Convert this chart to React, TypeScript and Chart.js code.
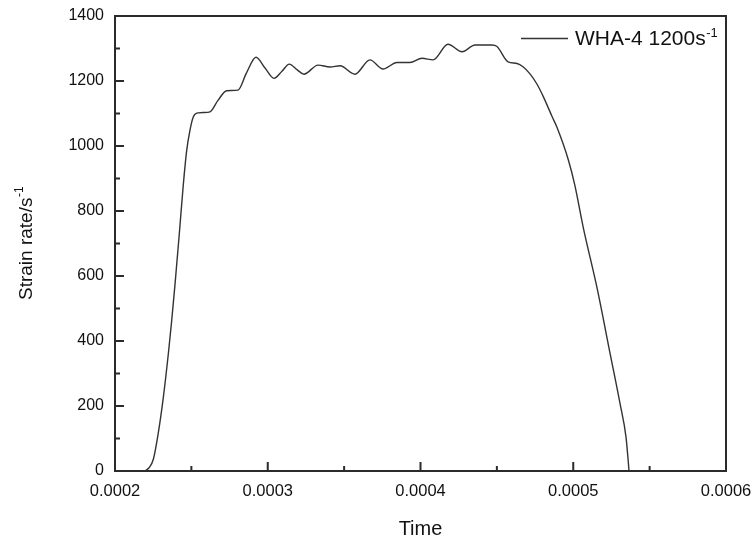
import React, { useEffect, useRef } from "react";
import { Chart, registerables } from "chart.js";

Chart.register(...registerables);

const timeValues: number[] = [
  0.0002196, 0.0002223, 0.0002251, 0.0002283, 0.0002316, 0.0002349, 0.0002371, 0.0002393,
  0.0002421, 0.0002447, 0.0002469, 0.0002491, 0.0002513, 0.0002545, 0.0002583, 0.0002622,
  0.0002675, 0.0002731, 0.0002805, 0.000286, 0.0002923, 0.0002982, 0.0003041, 0.0003093,
  0.0003141, 0.0003191, 0.0003237, 0.0003329, 0.0003408, 0.0003473, 0.0003571, 0.0003669,
  0.0003755, 0.0003846, 0.0003931, 0.000401, 0.0004082, 0.000418, 0.0004272, 0.0004357,
  0.0004468, 0.0004501, 0.0004573, 0.0004632, 0.0004671, 0.0004717, 0.0004763, 0.0004804,
  0.0004862, 0.0004892, 0.0004968, 0.0005011, 0.0005066, 0.0005154, 0.0005241, 0.0005306,
  0.0005345, 0.000536, 0.0005365,
];

const strainRate: number[] = [
  0, 10, 36, 116, 225, 360, 462, 575,
  730, 880, 985, 1049, 1090, 1102, 1103, 1105,
  1141, 1170, 1172, 1224, 1273, 1240, 1208, 1230,
  1252, 1235, 1221, 1249, 1243, 1247, 1221, 1265,
  1237, 1257, 1257, 1270, 1265, 1313, 1290, 1311,
  1311, 1306, 1259, 1254, 1244, 1222, 1190, 1152,
  1090, 1059, 957, 878, 748, 567, 362, 208,
  106, 30, 0,
];

const xTicks: number[] = [0.0002, 0.0003, 0.0004, 0.0005, 0.0006];
const yTicks: number[] = [0, 200, 400, 600, 800, 1000, 1200, 1400];
const seriesName = "WHA-4 1200s";
const seriesSup = "-1";
const xTitle = "Time";
const yTitle = "Strain rate/s";
const yTitleSup = "-1";

const FONT = "'Liberation Sans', Arial, sans-serif";
const AXIS_COLOR = "#2b2b2b";

const framePlugin = {
  id: "originFrame",
  afterDraw(chart: any) {
    const { ctx, chartArea } = chart;
    const xs = chart.scales.x;
    const ys = chart.scales.y;
    const { left, right, top, bottom } = chartArea;
    ctx.save();
    ctx.strokeStyle = AXIS_COLOR;
    ctx.lineWidth = 2;
    ctx.strokeRect(left, top, right - left, bottom - top);

    // inner ticks
    ctx.lineWidth = 2;
    ctx.beginPath();
    for (let i = 0; i < xTicks.length; i++) {
      const px = xs.getPixelForValue(xTicks[i]);
      ctx.moveTo(px, bottom);
      ctx.lineTo(px, bottom - 9);
      if (i < xTicks.length - 1) {
        const mx = xs.getPixelForValue((xTicks[i] + xTicks[i + 1]) / 2);
        ctx.moveTo(mx, bottom);
        ctx.lineTo(mx, bottom - 5);
      }
    }
    for (let i = 0; i < yTicks.length; i++) {
      const py = ys.getPixelForValue(yTicks[i]);
      ctx.moveTo(left, py);
      ctx.lineTo(left + 9, py);
      if (i < yTicks.length - 1) {
        const my = ys.getPixelForValue((yTicks[i] + yTicks[i + 1]) / 2);
        ctx.moveTo(left, my);
        ctx.lineTo(left + 5, my);
      }
    }
    ctx.stroke();

    // axis titles
    ctx.fillStyle = "#111";
    ctx.textBaseline = "alphabetic";
    ctx.font = `20px ${FONT}`;
    ctx.textAlign = "center";
    ctx.fillText(xTitle, (left + right) / 2, 535);

    ctx.save();
    ctx.translate(31.5, 300);
    ctx.rotate(-Math.PI / 2);
    ctx.textAlign = "left";
    ctx.font = `19px ${FONT}`;
    ctx.fillText(yTitle, 0, 0);
    const w = ctx.measureText(yTitle).width;
    ctx.font = `12px ${FONT}`;
    ctx.fillText(yTitleSup, w + 0.5, -9);
    ctx.restore();

    // legend
    ctx.strokeStyle = "#333";
    ctx.lineWidth = 1.3;
    ctx.beginPath();
    ctx.moveTo(521, 38.5);
    ctx.lineTo(568, 38.5);
    ctx.stroke();
    ctx.textAlign = "left";
    ctx.font = `21px ${FONT}`;
    ctx.fillText(seriesName, 575, 45);
    const lw = ctx.measureText(seriesName).width;
    ctx.font = `13px ${FONT}`;
    ctx.fillText(seriesSup, 575 + lw + 0.5, 36.5);
    ctx.restore();
  },
};

export default function App() {
  const ref = useRef<HTMLCanvasElement | null>(null);
  useEffect(() => {
    document.body.style.margin = "0";
    if (!ref.current) return;
    const points = timeValues.map((t, i) => ({ x: t, y: strainRate[i] }));
    const hiddenGrid = {
      display: true,
      drawOnChartArea: false,
      drawTicks: true,
      tickLength: 11,
      color: "rgba(0,0,0,0)",
    };
    const chart = new Chart(ref.current, {
      type: "line",
      data: {
        datasets: [
          {
            label: seriesName + "⁻¹",
            data: points,
            borderColor: "#333333",
            borderWidth: 1.4,
            pointRadius: 0,
            fill: false,
            cubicInterpolationMode: "monotone",
          },
        ],
      },
      options: {
        responsive: false,
        animation: false,
        layout: { padding: { top: 16, right: 30, left: 0, bottom: 0 } },
        plugins: {
          legend: { display: false },
          tooltip: { enabled: false },
          title: { display: false },
        },
        scales: {
          x: {
            type: "linear",
            min: 0.0002,
            max: 0.0006,
            grid: hiddenGrid,
            border: { display: false },
            afterFit: (s: any) => {
              s.height = 65;
            },
            afterBuildTicks: (s: any) => {
              s.ticks = xTicks.map((v) => ({ value: v }));
            },
            ticks: {
              padding: 0,
              maxRotation: 0,
              color: "#111",
              font: { family: FONT, size: 16.5 },
              callback: (v: any) => Number(v).toFixed(4),
            },
          },
          y: {
            min: 0,
            max: 1400,
            grid: hiddenGrid,
            border: { display: false },
            afterFit: (s: any) => {
              s.width = 115;
            },
            afterBuildTicks: (s: any) => {
              s.ticks = yTicks.map((v) => ({ value: v }));
            },
            ticks: {
              padding: 0,
              color: "#111",
              font: { family: FONT, size: 16 },
              callback: (v: any) => String(v),
            },
          },
        },
      },
      plugins: [framePlugin],
    });
    return () => chart.destroy();
  }, []);
  return (
    <div style={{ width: 756, height: 536, background: "#fff" }}>
      <canvas ref={ref} width={756} height={536} />
    </div>
  );
}
